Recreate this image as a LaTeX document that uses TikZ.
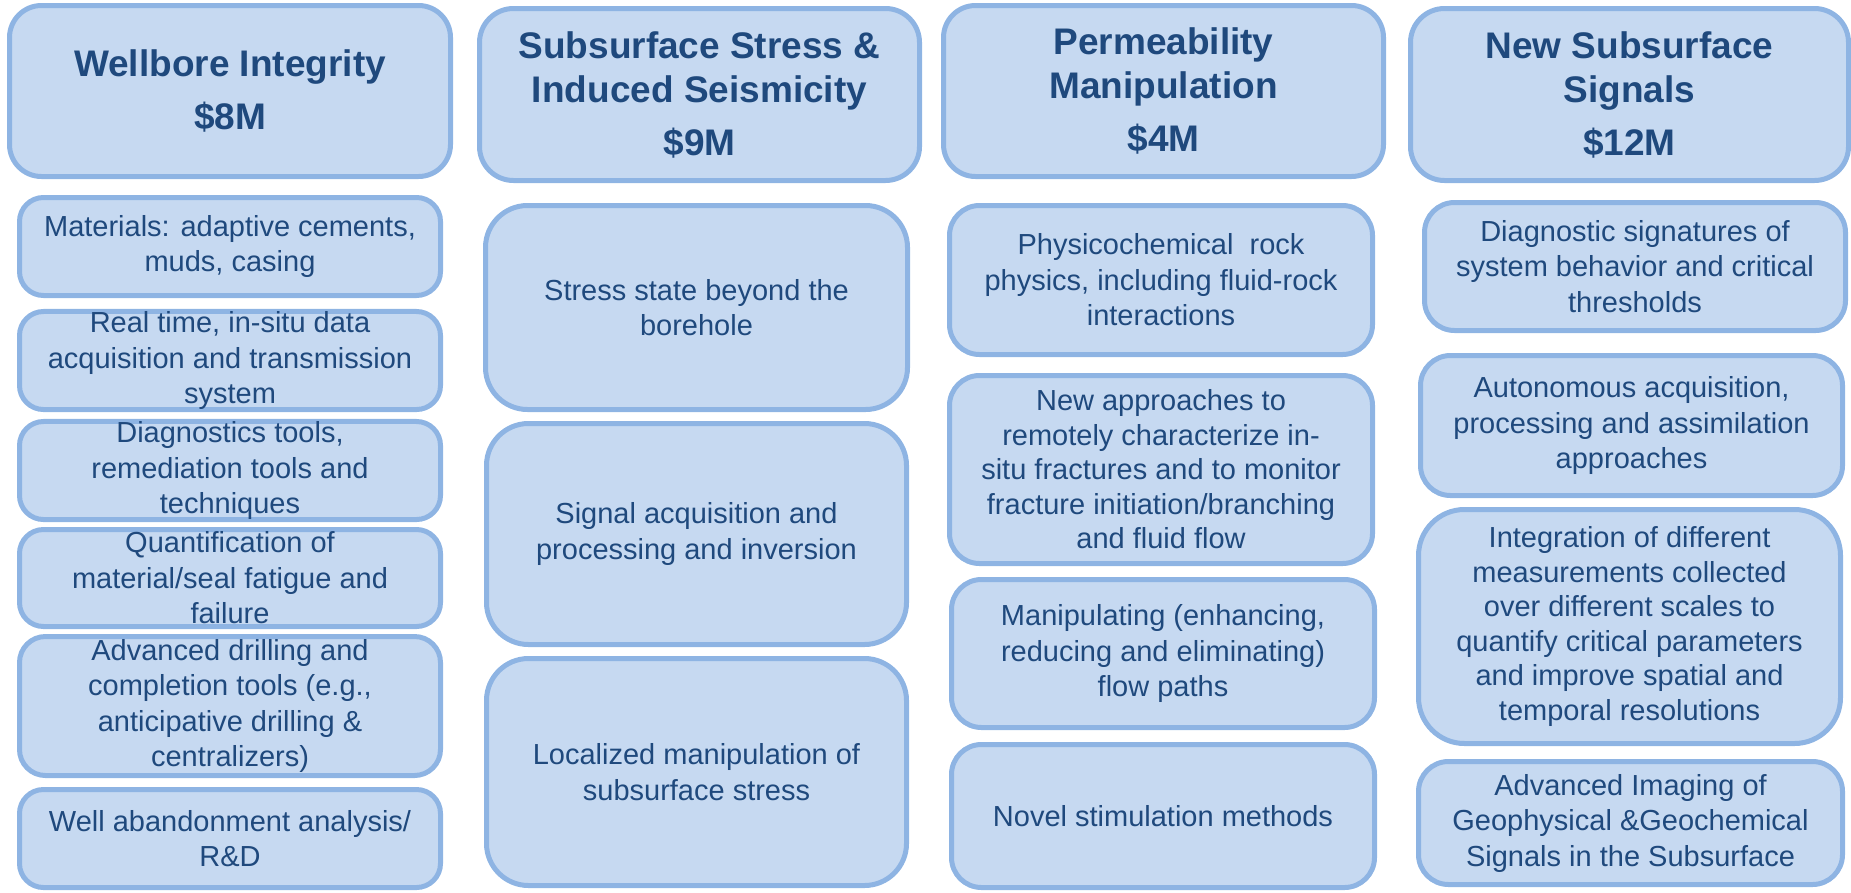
\documentclass[tikz,border=0pt]{standalone}
\usepackage{fontspec}
\setmainfont{Liberation Sans}
\definecolor{boxfill}{HTML}{C6D9F1}
\definecolor{boxline}{HTML}{8EB4E3}
\definecolor{boxtext}{HTML}{1F497D}
\tikzset{
  card/.style={draw=boxline, fill=boxfill, line width=5pt, inner sep=0pt, align=center,
    text=boxtext, font=\fontsize{29}{35.5}\selectfont},
  tightcard/.style={card, font=\fontsize{29}{34.5}\selectfont},
  headcard/.style={card, font=\bfseries\fontsize{37}{44}\selectfont},
}
% style, name, x1, y1, x2, y2, radius, text
\newcommand\bx[8]{%
  \node[#1, rounded corners=#7pt, minimum width={#5-#3-5}, minimum height={#6-#4-5}]
    (#2) at ({(#3+#5)/2},{(#4+#6)/2}) {#8};}
\begin{document}
\begin{tikzpicture}[x=1pt,y=-1pt]
\useasboundingbox (0,0) rectangle (1851,892);
% column 1
\bx{headcard}{h1}{7}{3}{453}{179}{32}{Wellbore Integrity\\[9pt]\$8M}
\bx{card}{a1}{17}{195}{443}{298}{24}{Materials: adaptive cements,\\muds, casing}
\bx{card}{a2}{17}{309}{443}{412}{24}{Real time, in-situ data\\acquisition and transmission\\system}
\bx{card}{a3}{17}{419}{443}{522}{24}{Diagnostics tools,\\remediation tools and\\techniques}
\bx{card}{a4}{17}{527}{443}{629}{24}{Quantification of\\material/seal fatigue and\\failure}
\bx{card}{a5}{17}{634}{443}{778}{26}{Advanced drilling and\\completion tools (e.g.,\\anticipative drilling \&\\centralizers)}
\bx{card}{a6}{17}{787}{443}{890}{24}{Well abandonment analysis/\\R\&D}
% column 2
\bx{headcard}{h2}{477}{6}{922}{183}{34}{Subsurface Stress \&\\Induced Seismicity\\[9pt]\$9M}
\bx{card}{b1}{483}{203}{910}{412}{42}{Stress state beyond the\\borehole}
\bx{card}{b2}{484}{421}{909}{647}{42}{Signal acquisition and\\processing and inversion}
\bx{card}{b3}{484}{656}{909}{888}{42}{Localized manipulation of\\subsurface stress}
% column 3
\bx{headcard}{h3}{941}{3}{1386}{179}{32}{Permeability\\Manipulation\\[9pt]\$4M}
\bx{card}{c1}{947}{203}{1375}{357}{30}{Physicochemical\ \ rock\\physics, including fluid-rock\\interactions}
\bx{tightcard}{c2}{947}{373}{1375}{566}{30}{New approaches to\\remotely characterize in-\\situ fractures and to monitor\\fracture initiation/branching\\and fluid flow}
\bx{card}{c3}{949}{577}{1377}{730}{30}{Manipulating (enhancing,\\reducing and eliminating)\\flow paths}
\bx{card}{c4}{949}{742}{1377}{890}{30}{Novel stimulation methods}
% column 4
\bx{headcard}{h4}{1408}{6}{1851}{183}{34}{New Subsurface\\Signals\\[9pt]\$12M}
\bx{card}{d1}{1422}{200}{1848}{333}{30}{Diagnostic signatures of\\system behavior and critical\\thresholds}
\bx{card}{d2}{1418}{353}{1845}{498}{30}{Autonomous acquisition,\\processing and assimilation\\approaches}
\bx{tightcard}{d3}{1416}{507}{1843}{746}{46}{Integration of different\\measurements collected\\over different scales to\\quantify critical parameters\\and improve spatial and\\temporal resolutions}
\bx{card}{d4}{1416}{759}{1845}{887}{30}{Advanced Imaging of\\Geophysical \&Geochemical\\Signals in the Subsurface}
\end{tikzpicture}
\end{document}
